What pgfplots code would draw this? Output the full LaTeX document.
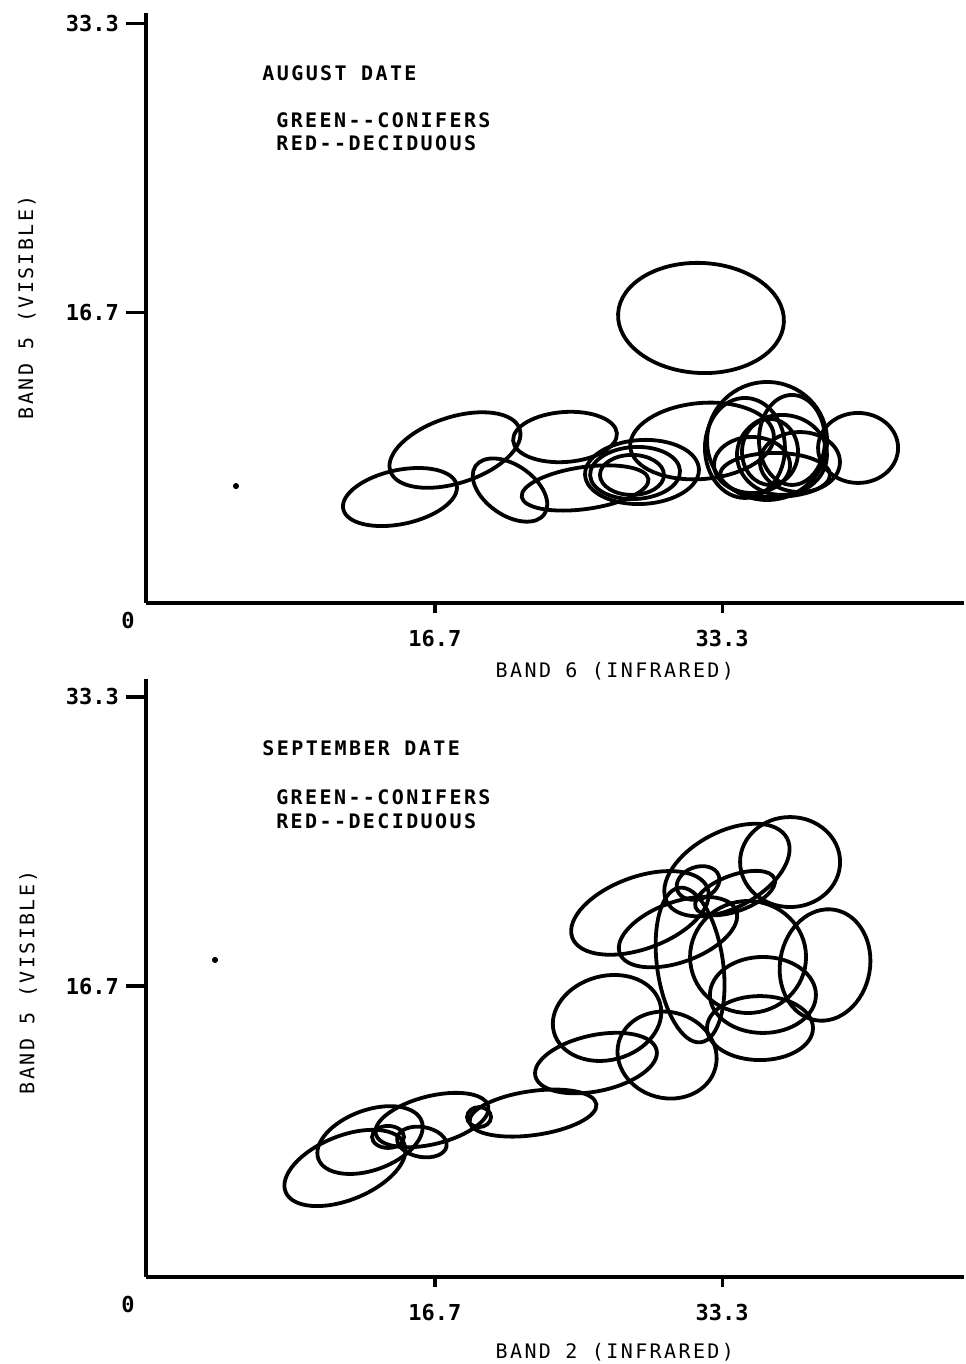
\documentclass[border=0pt]{standalone}
\usepackage{fontspec}
\usepackage{pgfplots}
\pgfplotsset{compat=1.18}
\newfontfamily\tw{DejaVu Sans Mono}[LetterSpace=12]
\newfontfamily\tk{DejaVu Sans Mono}
% cluster outline: centre (axis units), radii (pt), tilt (deg)
\newcommand{\E}[5]{\draw[line width=1.9pt, rotate around={#5:(axis cs:#1,#2)}] (axis cs:#1,#2) circle [x radius=#3pt, y radius=#4pt];}
\pgfplotsset{myax/.style={
  x=8.65pt, xmin=0, xmax=47.3, ymin=0,
  axis lines=left, axis line style={-, line width=1.6pt},
  xtick={16.7,33.3}, ytick={16.7,33.3},
  xticklabels={16.7,33.3}, yticklabels={16.7,33.3},
  tick align=outside, major tick length=10pt,
  tick style={line width=1.6pt, black},
  x tick style={/pgfplots/major tick length=5pt},
  ticklabel style={font=\tk\bfseries\fontsize{11}{12}\selectfont},
  clip=false,
}}
\begin{document}
\begin{tikzpicture}
\useasboundingbox (0,0) rectangle (482.5pt,682pt);
% ---------- August ----------
\begin{axis}[myax, y=8.7pt, ymax=33.9, at={(73pt,380.5pt)}, anchor=south west]
\E{14.68}{6.09}{29}{13.5}{12}
\E{17.86}{8.79}{34}{16.5}{18}
\E{24.22}{9.54}{26}{12.5}{4}
\E{21.04}{6.49}{21}{12.5}{-35}
\E{25.38}{6.61}{32}{10.5}{8}
\E{28.67}{7.53}{28.5}{16}{3}
\E{28.27}{7.47}{22.5}{13}{3}
\E{28.09}{7.36}{16}{10}{0}
\E{32.14}{9.31}{36}{19}{5}
\E{32.08}{16.38}{41.5}{27.5}{-3}
\E{35.9}{9.31}{30}{29.5}{0}
\E{34.62}{8.91}{20}{25}{0}
\E{36.76}{8.51}{22.5}{20}{0}
\E{36.07}{8.68}{14}{16.5}{0}
\E{37.8}{8.1}{20}{15}{0}
\E{35.03}{7.93}{19}{14}{0}
\E{37.34}{9.37}{16.5}{22.5}{0}
\E{36.36}{7.36}{27.5}{11}{0}
\E{41.16}{8.91}{20}{17.5}{0}
\addplot[only marks, mark=*, mark size=1.3pt] coordinates {(5.2,6.72)};
\node[anchor=west, inner sep=0pt, font=\tw\bfseries] at (axis cs:6.71,30.46) {AUGUST DATE};
\node[anchor=west, inner sep=0pt, font=\tw\bfseries] at (axis cs:7.51,27.76) {GREEN--CONIFERS};
\node[anchor=west, inner sep=0pt, font=\tw\bfseries] at (axis cs:7.51,26.44) {RED--DECIDUOUS};
\node[font=\tw] at (axis cs:27.1,-3.9) {BAND 6 (INFRARED)};
\node[rotate=90, font=\tw] at (axis cs:-6.88,17.0) {BAND 5 (VISIBLE)};
\node[font=\tk\bfseries\fontsize{11}{12}\selectfont] at (axis cs:-1.04,-0.98) {0};
\end{axis}
% ---------- September ----------
\begin{axis}[myax, y=8.71pt, ymax=34.3, at={(73pt,43.5pt)}, anchor=south west]
\E{11.5}{6.26}{32}{16}{22}
\E{12.95}{7.86}{27.5}{15}{20}
\E{13.99}{8.04}{8}{5.5}{0}
\E{15.95}{7.75}{12.5}{7.5}{-10}
\E{16.53}{9.01}{29}{12}{14}
\E{22.37}{9.41}{32}{11}{8}
\E{19.25}{9.18}{6}{5}{0}
\E{26.01}{12.28}{31}{14}{12}
\E{26.65}{14.87}{27.5}{21}{15}
\E{30.12}{12.74}{25}{21.5}{-15}
\E{31.45}{17.91}{16.5}{39}{8}
\E{28.55}{20.9}{36}{18}{20}
\E{30.75}{19.8}{31}{15}{20}
\E{33.58}{23.36}{34}{19}{28}
\E{37.23}{23.82}{25}{22.5}{0}
\E{34.05}{22.04}{21}{9}{20}
\E{34.8}{18.37}{29}{28}{0}
\E{39.25}{17.91}{22.5}{28}{-10}
\E{35.66}{16.19}{26.5}{19}{0}
\E{35.49}{14.29}{26.5}{16}{0}
\E{31.91}{22.62}{11}{8}{20}
\addplot[only marks, mark=*, mark size=1.3pt] coordinates {(3.99,18.2)};
\node[anchor=west, inner sep=0pt, font=\tw\bfseries] at (axis cs:6.71,30.37) {SEPTEMBER DATE};
\node[anchor=west, inner sep=0pt, font=\tw\bfseries] at (axis cs:7.51,27.55) {GREEN--CONIFERS};
\node[anchor=west, inner sep=0pt, font=\tw\bfseries] at (axis cs:7.51,26.18) {RED--DECIDUOUS};
\node[font=\tw] at (axis cs:27.1,-4.31) {BAND 2 (INFRARED)};
\node[rotate=90, font=\tw] at (axis cs:-6.82,16.93) {BAND 5 (VISIBLE)};
\node[font=\tk\bfseries\fontsize{11}{12}\selectfont] at (axis cs:-1.04,-1.6) {0};
\end{axis}
\end{tikzpicture}
\end{document}
